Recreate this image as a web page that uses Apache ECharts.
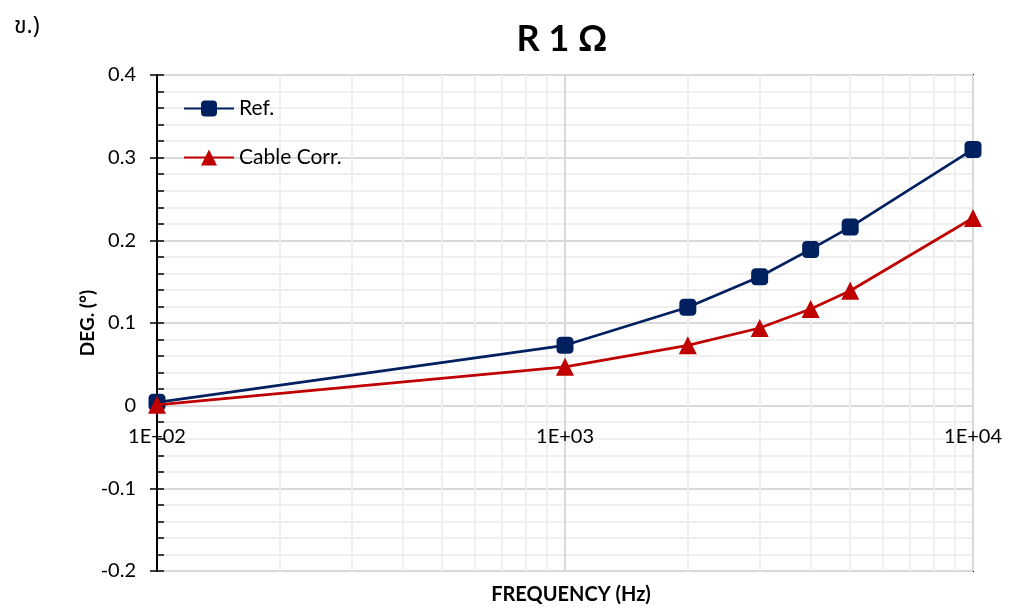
<!DOCTYPE html>
<html>
<head>
<meta charset="utf-8">
<script src="https://cdn.jsdelivr.net/npm/echarts@6/dist/echarts.min.js"></script>
<style>
  html, body { margin: 0; padding: 0; background: #fff; }
  #chart { width: 1009px; height: 608px; }
</style>
</head>
<body>
<div id="chart"></div>
<script>
// Phase deviation vs frequency for the 1 Ω resistor
const frequencies = [100, 1000, 2000, 3000, 4000, 5000, 10000];
const refDeg = [0.004, 0.073, 0.119, 0.156, 0.189, 0.216, 0.310];
const cableCorrDeg = [0.001, 0.047, 0.073, 0.094, 0.117, 0.139, 0.227];
const minorFreqs = [200, 300, 400, 500, 600, 700, 800, 900,
                    2000, 3000, 4000, 5000, 6000, 7000, 8000, 9000];
const xTickLabels = { 100: '1E+02', 1000: '1E+03', 10000: '1E+04' };
const yMin = -0.2, yMax = 0.4;

const FONT = 'Lato, "Open Sans", sans-serif';

const chart = echarts.init(document.getElementById('chart'), null, { renderer: 'canvas' });

const pairs = arr => frequencies.map((f, i) => [f, arr[i]]);

// plot box
const gridTop = 75, gridBottom = 37, chartH = 608;
const plotH = chartH - gridTop - gridBottom;
// move the frequency axis (labels) up to the zero line
const zeroOffset = -plotH * (0 - yMin) / (yMax - yMin);

chart.setOption({
  animation: false,
  backgroundColor: '#ffffff',
  title: [
    {
      text: 'R 1 Ω', left: 557, top: 16, textAlign: 'center',
      textStyle: { fontFamily: FONT, fontSize: 36, fontWeight: 'bold', color: '#000' }
    },
    {
      text: 'FREQUENCY (Hz)', left: 566, top: 580, textAlign: 'center',
      textStyle: { fontFamily: FONT, fontSize: 20, fontWeight: 'bold', color: '#000' }
    },
    {
      text: 'ข.)', left: 9, top: 12,
      textStyle: { fontFamily: '"Noto Sans Thai", "Noto Sans", "DejaVu Sans", sans-serif', fontSize: 23, fontWeight: 'normal', color: '#000' }
    }
  ],
  legend: {
    orient: 'vertical', left: 183, top: 98, padding: 0, itemWidth: 50, itemHeight: 20, itemGap: 28,
    textStyle: { fontFamily: FONT, fontSize: 21, color: '#000' },
    data: ['Ref.', 'Cable Corr.']
  },
  grid: {
    left: 157, right: 36, top: gridTop, bottom: gridBottom,
    show: true, borderColor: '#000', borderWidth: 2, backgroundColor: 'transparent'
  },
  xAxis: {
    type: 'log', logBase: 10, min: 100, max: 10000,
    offset: zeroOffset,
    axisLine: { show: true, onZero: false, lineStyle: { color: '#d9d9d9', width: 2 } },
    axisTick: { show: false },
    axisLabel: {
      fontFamily: FONT, fontSize: 20, color: '#000', margin: 21,
      formatter: v => xTickLabels[Math.round(v)] || ''
    },
    splitLine: { show: true, lineStyle: { color: '#d9d9d9', width: 2 } }
  },
  yAxis: [
    {
      type: 'value', min: yMin, max: yMax, interval: 0.1,
      name: 'DEG. (°)', nameLocation: 'middle', nameGap: 60, nameRotate: 90,
      nameMoveOverlap: false,
      nameTextStyle: { fontFamily: FONT, fontSize: 19, fontWeight: 'bold', color: '#000' },
      axisLine: { show: true, lineStyle: { color: '#000', width: 2 } },
      axisTick: { show: true, inside: true, length: 7, lineStyle: { color: '#000', width: 1.5 } },
      minorTick: { show: true, splitNumber: 5, length: 7, lineStyle: { color: '#000', width: 1.5 } },
      minorSplitLine: { show: true, lineStyle: { color: '#efefef', width: 2 } },
      splitLine: { show: true, lineStyle: { color: '#d9d9d9', width: 2 } },
      axisLabel: {
        fontFamily: FONT, fontSize: 20, color: '#000', margin: 21,
        formatter: v => String(Math.round(v * 10) / 10)
      }
    },
    {
      // outer halves of the major ticks
      type: 'value', min: yMin, max: yMax, interval: 0.1, position: 'left',
      axisLine: { show: false },
      axisTick: { show: true, inside: false, length: 7, lineStyle: { color: '#000', width: 1.5 } },
      axisLabel: { show: false },
      splitLine: { show: false }
    }
  ],
  series: [
    {
      name: 'minor-x-grid', type: 'line', data: [], silent: true, z: 1,
      markLine: {
        z: 1, silent: true, symbol: ['none', 'none'], label: { show: false },
        lineStyle: { color: '#efefef', width: 2, type: 'solid' },
        emphasis: { disabled: true },
        data: minorFreqs.map(f => ({ xAxis: f }))
      }
    },
    {
      name: 'Ref.', type: 'line', data: pairs(refDeg), z: 3,
      symbol: 'roundRect', symbolSize: 17,
      lineStyle: { color: '#002060', width: 2.7 },
      itemStyle: { color: '#002060' }
    },
    {
      name: 'Cable Corr.', type: 'line', data: pairs(cableCorrDeg), z: 4,
      symbol: 'triangle', symbolSize: 18,
      lineStyle: { color: '#c00000', width: 2.7 },
      itemStyle: { color: '#c00000' }
    }
  ]
});
</script>
</body>
</html>
